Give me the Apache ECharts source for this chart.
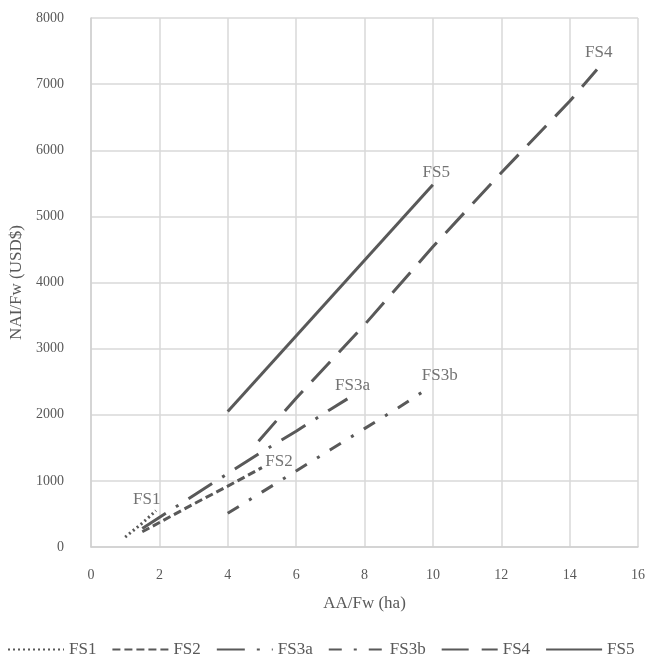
<!DOCTYPE html>
<html>
<head>
<meta charset="utf-8">
<script src="https://cdn.jsdelivr.net/npm/echarts@6/dist/echarts.min.js"></script>
<style>
html,body{margin:0;padding:0;background:#fff;}
#chart{width:649px;height:664px;}
</style>
</head>
<body>
<div id="chart"></div>
<script>
// Data: [AA/Fw (ha), NAI/Fw (USD$)]
var seriesNames = ['FS1', 'FS2', 'FS3a', 'FS3b', 'FS4', 'FS5'];
var fs1 = [[1.0, 150], [1.5, 360], [1.9, 550]];
var fs2 = [[1.5, 230], [3, 650], [4, 920], [5, 1200]];
var fs3a = [[1.5, 280], [3, 780], [4, 1110], [5, 1440], [6, 1750], [7, 2080], [7.5, 2240]];
var fs3b = [[4, 510], [5, 830], [6, 1150], [7, 1470], [8, 1790], [9, 2110], [9.8, 2380]];
var fs4 = [[4.9, 1600], [6, 2250], [8, 3360], [10, 4540], [12, 5660], [14, 6740], [14.8, 7220]];
var fs5 = [[4, 2050], [10, 5480]];
// Annotation labels: [x, y, text]
var annotations = [[1.63, 720, 'FS1'], [5.5, 1290, 'FS2'], [7.65, 2440, 'FS3a'], [10.2, 2600, 'FS3b'], [14.85, 7480, 'FS4'], [10.1, 5660, 'FS5']];
var xTicks = {min: 0, max: 16, interval: 2};
var yTicks = {min: 0, max: 8000, interval: 1000};

var lineColor = '#595959';
var dashes = {
  FS1: [2, 3],
  FS2: [8, 4],
  FS3a: [28, 12, 3, 12],
  FS3b: [13, 12, 3, 12],
  FS4: [27, 13],
  FS5: 'solid'
};
var dataMap = {FS1: fs1, FS2: fs2, FS3a: fs3a, FS3b: fs3b, FS4: fs4, FS5: fs5};
var font = '"Liberation Serif", "DejaVu Serif", serif';

var series = seriesNames.map(function (n) {
  return {
    name: n,
    type: 'line',
    data: dataMap[n],
    symbol: 'none',
    showSymbol: false,
    smooth: false,
    lineStyle: {color: lineColor, width: 3, type: dashes[n], cap: 'butt'},
    itemStyle: {color: lineColor},
    z: 3
  };
});
series.push({
  name: 'labels',
  type: 'scatter',
  symbolSize: 0,
  data: annotations.map(function (a) { return {value: [a[0], a[1]], name: a[2]}; }),
  label: {
    show: true,
    position: 'inside',
    formatter: function (p) { return p.name; },
    fontFamily: font,
    fontSize: 17,
    color: '#505050'
  },
  silent: true,
  z: 4
});

var chart = echarts.init(document.getElementById('chart'));
chart.setOption({
  animation: false,
  backgroundColor: '#fff',
  grid: {left: 91, right: 11, top: 18, bottom: 117, containLabel: false},
  xAxis: {
    type: 'value',
    min: xTicks.min, max: xTicks.max, interval: xTicks.interval,
    name: 'AA/Fw (ha)',
    nameLocation: 'middle',
    nameGap: 48,
    nameTextStyle: {fontFamily: font, fontSize: 17, color: '#595959'},
    axisLine: {show: true, lineStyle: {color: '#d0d0d0', width: 1.5}},
    axisTick: {show: false},
    axisLabel: {fontFamily: font, fontSize: 14, color: '#595959', margin: 21},
    splitLine: {show: true, lineStyle: {color: '#d9d9d9', width: 1.5}}
  },
  yAxis: {
    type: 'value',
    min: yTicks.min, max: yTicks.max, interval: yTicks.interval,
    name: 'NAI/Fw (USD$)',
    nameLocation: 'middle',
    nameGap: 60,
    nameRotate: 90,
    nameTextStyle: {fontFamily: font, fontSize: 17, color: '#595959'},
    axisLine: {show: true, lineStyle: {color: '#d0d0d0', width: 1.5}},
    axisTick: {show: false},
    axisLabel: {fontFamily: font, fontSize: 14, color: '#595959', margin: 27,
      formatter: function (v) { return String(v); }},
    splitLine: {show: true, lineStyle: {color: '#d9d9d9', width: 1.5}}
  },
  legend: {
    data: seriesNames,
    left: 2,
    bottom: 1,
    itemWidth: 56,
    itemHeight: 10,
    itemGap: 15,
    itemStyle: {opacity: 0},
    textStyle: {fontFamily: font, fontSize: 17, color: '#595959'}
  },
  series: series
});
</script>
</body>
</html>
